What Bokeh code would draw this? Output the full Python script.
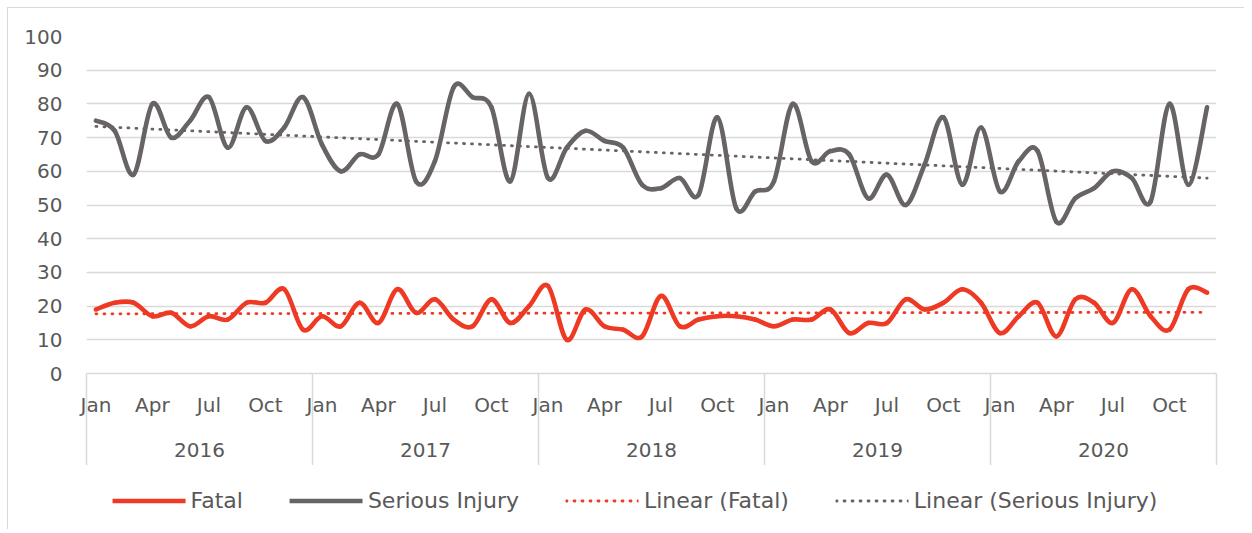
import numpy as np
from bokeh.plotting import figure
from bokeh.layouts import column
from bokeh.models import (ColumnDataSource, FixedTicker, LinearAxis, Range1d,
                          Legend, LegendItem)
from bokeh.embed import file_html
from bokeh.resources import INLINE

# ---------------- data ----------------
years = ["2016", "2017", "2018", "2019", "2020"]
months = ["Jan", "Feb", "Mar", "Apr", "May", "Jun",
          "Jul", "Aug", "Sep", "Oct", "Nov", "Dec"]
quarter_months = ["Jan", "Apr", "Jul", "Oct"]

fatal = [19, 21, 21, 17, 18, 14, 17, 16, 21, 21, 25, 13,
         17, 14, 21, 15, 25, 18, 22, 16, 14, 22, 15, 20,
         26, 10, 19, 14, 13, 11, 23, 14, 16, 17, 17, 16,
         14, 16, 16, 19, 12, 15, 15, 22, 19, 21, 25, 21,
         12, 17, 21, 11, 22, 21, 15, 25, 17, 13, 25, 24]

serious = [75, 72, 59, 80, 70, 75, 82, 67, 79, 69, 73, 82,
           68, 60, 65, 65, 80, 57, 63, 85, 82, 79, 57, 83,
           58, 67, 72, 69, 67, 56, 55, 58, 53, 76, 49, 54,
           57, 80, 63, 66, 65, 52, 59, 50, 62, 76, 56, 73,
           54, 63, 66, 45, 52, 55, 60, 58, 51, 80, 56, 79]

series_names = ["Fatal", "Serious Injury", "Linear (Fatal)", "Linear (Serious Injury)"]

RED = "#EE3A24"
GREY = "#676463"
TEXT = "#595959"
GRID = "#D9D9D9"
FONT = "DejaVu Sans"

n_months = len(years) * len(months)
x = np.arange(n_months) + 0.5  # month centres


def smooth_segments(xv, yv):
    yv = np.asarray(yv, dtype=float)
    xp = np.concatenate([[xv[0]], xv, [xv[-1]]])
    yp = np.concatenate([[yv[0]], yv, [yv[-1]]])
    d = dict(x0=[], y0=[], x1=[], y1=[], cx0=[], cy0=[], cx1=[], cy1=[])
    for i in range(len(xv) - 1):
        j = i + 1
        d["x0"].append(xp[j]); d["y0"].append(yp[j])
        d["x1"].append(xp[j + 1]); d["y1"].append(yp[j + 1])
        d["cx0"].append(xp[j] + (xp[j + 1] - xp[j - 1]) / 6)
        d["cy0"].append(yp[j] + (yp[j + 1] - yp[j - 1]) / 6)
        d["cx1"].append(xp[j + 1] - (xp[j + 2] - xp[j]) / 6)
        d["cy1"].append(yp[j + 1] - (yp[j + 2] - yp[j]) / 6)
    return ColumnDataSource(d)


p = figure(frame_width=1130, frame_height=337, output_backend="svg",
           toolbar_location=None,
           x_range=Range1d(0, n_months), y_range=Range1d(0, 100),
           min_border_left=78, min_border_top=28, min_border_right=28,
           min_border_bottom=0)
p.outline_line_color = None
p.background_fill_color = "white"
p.border_fill_color = "white"

# grid
p.xgrid.visible = False
p.ygrid.grid_line_color = GRID
p.ygrid.grid_line_width = 1.5

# y axis
p.yaxis.ticker = FixedTicker(ticks=list(range(0, 101, 10)))
p.yaxis.axis_line_color = None
p.yaxis.major_tick_line_color = None
p.yaxis.minor_tick_line_color = None
p.yaxis.major_label_standoff = 18
p.yaxis.major_label_text_font = FONT
p.yaxis.major_label_text_font_size = "20px"
p.yaxis.major_label_text_color = TEXT

# month axis
q_ticks = [float(x[y * 12 + months.index(m)]) for y in range(len(years))
           for m in quarter_months]
q_labels = {t: quarter_months[k % 4] for k, t in enumerate(q_ticks)}
boundaries = [float(y * 12) for y in range(len(years) + 1)]
xa = p.xaxis[0]
xa.ticker = FixedTicker(ticks=q_ticks, minor_ticks=[])
xa.major_label_overrides = q_labels
xa.axis_line_color = GRID
xa.axis_line_width = 1.5
xa.major_tick_line_color = None
xa.minor_tick_line_color = None
xa.major_tick_out = 0
xa.major_tick_in = 0
xa.minor_tick_out = 0
xa.minor_tick_in = 0
xa.major_label_standoff = 19
xa.major_label_text_font = FONT
xa.major_label_text_font_size = "20px"
xa.major_label_text_color = TEXT

# year axis
y_ticks = [float(y * 12 + 6) for y in range(len(years))]
ya = LinearAxis(ticker=FixedTicker(ticks=y_ticks, minor_ticks=[]),
                major_label_overrides={t: years[k] for k, t in enumerate(y_ticks)},
                axis_line_color=None, major_tick_line_color=None,
                minor_tick_line_color=None, major_tick_out=0, major_tick_in=0,
                minor_tick_out=0, minor_tick_in=0,
                major_label_standoff=23, major_label_text_font=FONT,
                major_label_text_font_size="20px", major_label_text_color=TEXT)
p.add_layout(ya, "below")

# year separators (drawn upward from below the year labels)
sep = LinearAxis(ticker=FixedTicker(ticks=[], minor_ticks=boundaries),
                 axis_line_color=None, major_tick_line_color=None,
                 minor_tick_line_color=GRID, minor_tick_line_width=1.5,
                 minor_tick_in=86, minor_tick_out=6, major_tick_in=0,
                 major_tick_out=0, major_label_standoff=0,
                 major_label_text_font_size="0px")
p.add_layout(sep, "below")

# trend lines
fit_f = np.polyval(np.polyfit(x, fatal, 1), x)
fit_s = np.polyval(np.polyfit(x, serious, 1), x)
p.line(x, fit_f, line_color=RED, line_width=2.8, line_dash="1 7", line_cap="round")
p.line(x, fit_s, line_color=GREY, line_width=2.8, line_dash="1 7", line_cap="round")

# smoothed series
src_s = smooth_segments(x, serious)
src_f = smooth_segments(x, fatal)
p.bezier(x0="x0", y0="y0", x1="x1", y1="y1", cx0="cx0", cy0="cy0",
         cx1="cx1", cy1="cy1", source=src_s, line_color=GREY,
         line_width=4.6, line_cap="round")
p.bezier(x0="x0", y0="y0", x1="x1", y1="y1", cx0="cx0", cy0="cy0",
         cx1="cx1", cy1="cy1", source=src_f, line_color=RED,
         line_width=4.6, line_cap="round")

# ---------------- legend strip ----------------
lg = figure(width=1236, height=64, output_backend="svg", toolbar_location=None,
            x_range=Range1d(0, 1), y_range=Range1d(0, 1),
            x_axis_location=None, y_axis_location=None,
            min_border_left=0, min_border_right=60, min_border_top=6,
            min_border_bottom=0)
lg.outline_line_color = None
lg.xgrid.visible = False
lg.ygrid.visible = False
styles = [dict(line_color=RED, line_width=4.6, line_cap="round"),
          dict(line_color=GREY, line_width=4.6, line_cap="round"),
          dict(line_color=RED, line_width=2.8, line_dash="1 7", line_cap="round"),
          dict(line_color=GREY, line_width=2.8, line_dash="1 7", line_cap="round")]
items = []
for name, st in zip(series_names, styles):
    r = lg.line([-5, -4], [-5, -4], **st)
    items.append(LegendItem(label=name, renderers=[r]))
legend = Legend(items=items, orientation="horizontal", location="center",
                label_text_font=FONT, label_text_font_size="22px",
                label_text_color=TEXT, glyph_width=73, glyph_height=20,
                label_standoff=5, spacing=47, padding=0, margin=0,
                border_line_color=None, background_fill_alpha=0)
lg.add_layout(legend, "center")

layout = column(p, lg, spacing=0, margin=(7, 0, 0, 7),
                styles={"border-top": "1px solid #D9D9D9",
                        "border-left": "1px solid #D9D9D9"})
open("out.html", "w").write(file_html(layout, INLINE))
